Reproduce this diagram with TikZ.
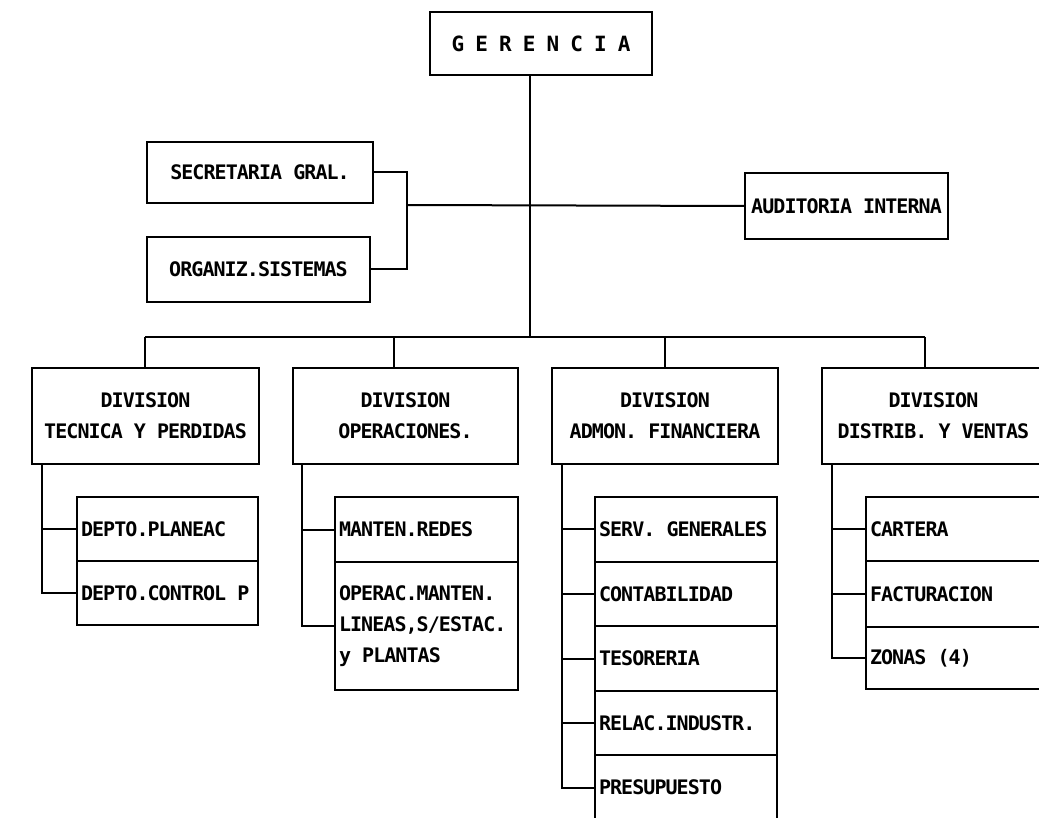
\documentclass[tikz,border=0pt]{standalone}
\usepackage{fontspec}
\newfontfamily\chartfont{DejaVu Sans Mono}[LetterSpace=-4.7]
\newcommand\spc{\hspace*{11.1pt}}
\begin{document}
\begin{tikzpicture}[x=1pt,y=-1pt,
  line width=2pt,
  txt/.style={font=\chartfont\bfseries\fontsize{20}{31}\selectfont},
  cbox/.style={draw, rectangle, inner sep=0pt, txt, align=center},
  lbox/.style={draw, rectangle, inner sep=0pt, txt, align=left},
]
\path[use as bounding box] (0,0) rectangle (1039,818);
\clip (0,0) rectangle (1039,818);

% top level
\node[cbox, minimum width=222, minimum height=63, font=\chartfont\bfseries\fontsize{21}{31}\selectfont] (ger) at (541,43.5) {G\spc E\spc R\spc E\spc N\spc C\spc I\spc A};
\node[cbox, minimum width=226, minimum height=61] (sec) at (260,172.5) {SECRETARIA\spc GRAL.};
\node[cbox, minimum width=223, minimum height=65] (org) at (258.5,269.5) {ORGANIZ.SISTEMAS};
\node[cbox, minimum width=203, minimum height=66] (aud) at (846.5,206) {AUDITORIA\spc INTERNA};

% divisions
\node[cbox, minimum width=227, minimum height=96] (d1) at (145.5,416) {DIVISION\\TECNICA\spc Y\spc PERDIDAS};
\node[cbox, minimum width=225, minimum height=96] (d2) at (405.5,416) {DIVISION\\OPERACIONES.};
\node[cbox, minimum width=226, minimum height=96] (d3) at (665,416) {DIVISION\\ADMON.\spc FINANCIERA};
\node[cbox, minimum width=223, minimum height=96, text width=223] (d4) at (933.5,416) {DIVISION\\DISTRIB.\spc Y\spc VENTAS};

% sub units div 1
\node[lbox, minimum width=181, minimum height=64, text width=173] (s11) at (167.5,529) {DEPTO.PLANEAC};
\node[lbox, minimum width=181, minimum height=64, text width=173] (s12) at (167.5,593) {DEPTO.CONTROL\spc P};
% div 2
\node[lbox, minimum width=183, minimum height=65, text width=175] (s21) at (426.5,529.5) {MANTEN.REDES};
\node[lbox, minimum width=183, minimum height=128, text width=175] (s22) at (426.5,626) {OPERAC.MANTEN.\\LINEAS,S/ESTAC.\\y\spc PLANTAS};
% div 3
\node[lbox, minimum width=182, minimum height=64.6, text width=174] (s31) at (686,529.3) {SERV.\spc GENERALES};
\node[lbox, minimum width=182, minimum height=64.6, text width=174] (s32) at (686,593.9) {CONTABILIDAD};
\node[lbox, minimum width=182, minimum height=64.6, text width=174] (s33) at (686,658.5) {TESORERIA};
\node[lbox, minimum width=182, minimum height=64.6, text width=174] (s34) at (686,723.1) {RELAC.INDUSTR.};
\node[lbox, minimum width=182, minimum height=64.6, text width=174] (s35) at (686,787.7) {PRESUPUESTO};
% div 4
\node[lbox, minimum width=179, minimum height=64, text width=171] (s41) at (955.5,529) {CARTERA};
\node[lbox, minimum width=179, minimum height=66, text width=171] (s42) at (955.5,594) {FACTURACION};
\node[lbox, minimum width=179, minimum height=62, text width=171] (s43) at (955.5,658) {ZONAS\spc (4)};

% connector coordinates
\coordinate (trunk) at (530,337);
\coordinate (brk) at (407,205);
\coordinate (b1) at (145,337);
\coordinate (b2) at (394,337);
\coordinate (b3) at (665,337);
\coordinate (b4) at (925,337);
\coordinate (v1) at (42,0);
\coordinate (v2) at (302,0);
\coordinate (v3) at (562,0);
\coordinate (v4) at (832,0);

% main trunk and bus
\draw (trunk |- ger.south) -- (trunk);
\draw (b1) -- (b4);
\draw (sec.east) -| (brk) |- (org.east);
\draw (brk) -- (aud.west);
\draw (b1) -- (b1 |- d1.north);
\draw (b2) -- (b2 |- d2.north);
\draw (b3) -- (b3 |- d3.north);
\draw (b4) -- (b4 |- d4.north);

% division 1 branches
\draw (v1 |- d1.south) -- (v1 |- s12.west) -- (s12.west);
\draw (v1 |- s11.west) -- (s11.west);
% division 2
\draw (v2 |- d2.south) -- (v2 |- s22.west) -- (s22.west);
\draw (v2 |- s21.west) -- (s21.west);
% division 3
\draw (v3 |- d3.south) -- (v3 |- s35.west) -- (s35.west);
\draw (v3 |- s31.west) -- (s31.west);
\draw (v3 |- s32.west) -- (s32.west);
\draw (v3 |- s33.west) -- (s33.west);
\draw (v3 |- s34.west) -- (s34.west);
% division 4
\draw (v4 |- d4.south) -- (v4 |- s43.west) -- (s43.west);
\draw (v4 |- s41.west) -- (s41.west);
\draw (v4 |- s42.west) -- (s42.west);
\end{tikzpicture}
\end{document}
